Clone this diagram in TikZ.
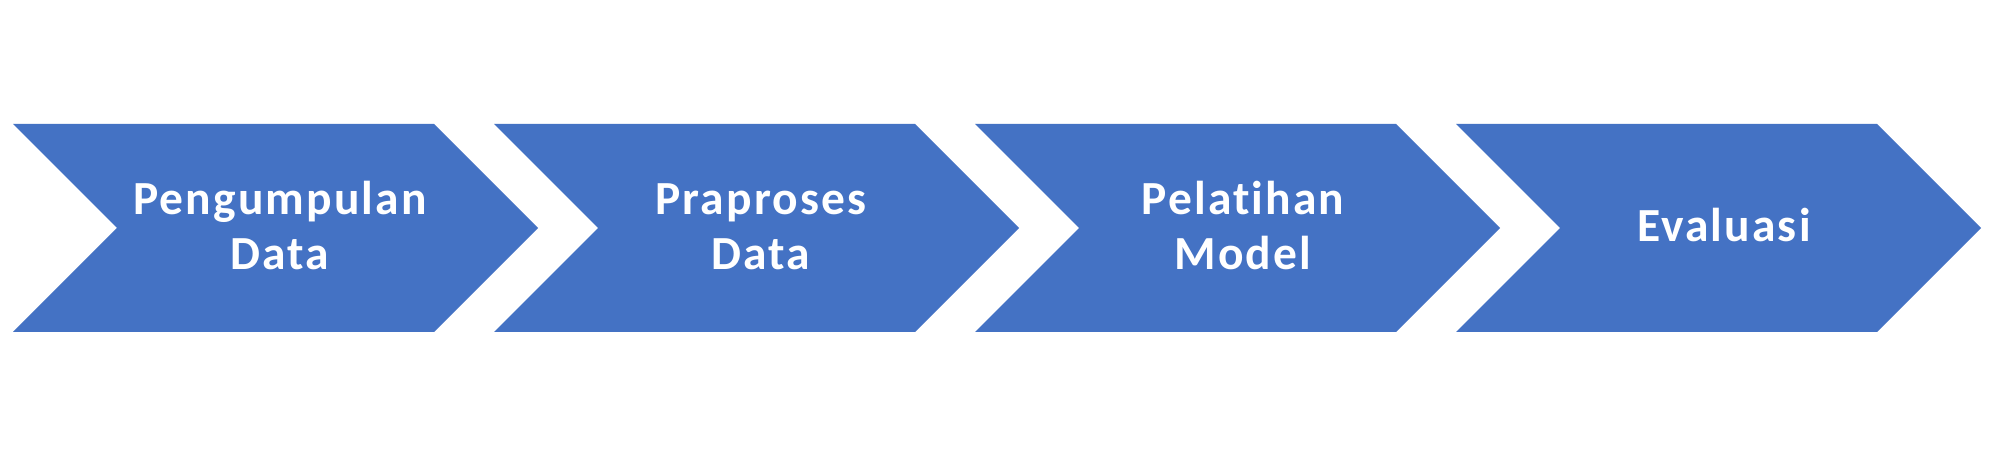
\documentclass[tikz,border=0pt]{standalone}
\usepackage{fontspec}
\setmainfont{Carlito}[Ligatures={NoCommon}, LetterSpace=4.5]
\definecolor{chev}{HTML}{4472C4}
\tikzset{
  chevshape/.style={fill=chev, draw=none},
  chevtext/.style={text=white, font=\bfseries\fontsize{47.5}{55}\selectfont, align=center, inner sep=0pt, anchor=base}
}
\begin{document}
\begin{tikzpicture}[x=1pt,y=1pt]
\useasboundingbox (0,0) rectangle (1989,457);
\fill[white] (0,0) rectangle (1989,457);
% chevrons: top y=333, mid y=229, bottom y=125
\foreach \L/\n in {13/a,494/b,975/c,1456/d}{
  \fill[chevshape] (\L,333) -- ++(421,0) -- ++(104,-104) -- ++(-104,-104) -- ++(-421,0) -- ++(104,104) -- cycle;
}
\node[chevtext] (t1) at (280,187) {Pengumpulan\\Data};
\node[chevtext] (t2) at (761,187) {Praproses\\Data};
\node[chevtext] (t3) at (1243,187) {Pelatihan\\Model};
\node[chevtext] (t4) at (1724,215) {Evaluasi};
\end{tikzpicture}
\end{document}
